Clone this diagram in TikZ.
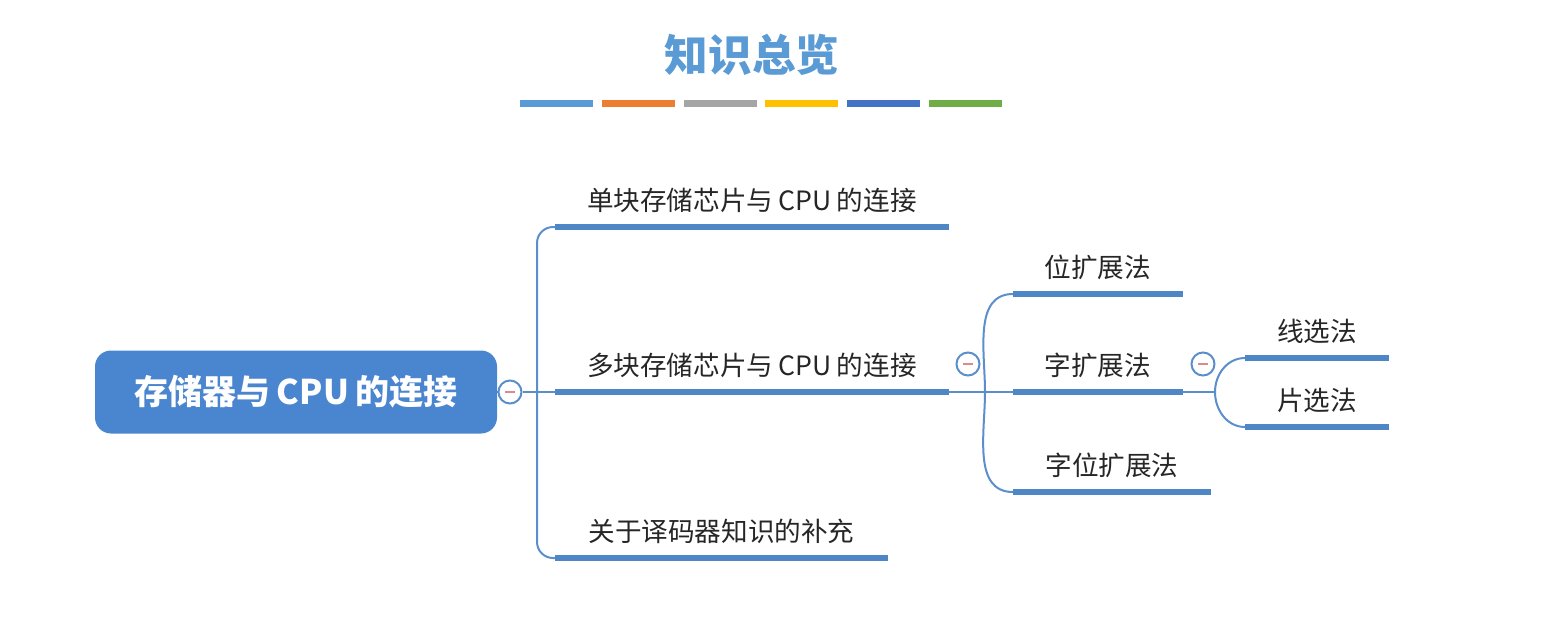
\documentclass[tikz,border=0pt]{standalone}
\usepackage{fontspec}
\setmainfont{Noto Sans CJK SC}
\usetikzlibrary{positioning}
\definecolor{mapblue}{HTML}{4A85CF}
\definecolor{linkblue}{HTML}{5A8FCB}
\definecolor{barblue}{HTML}{4E86C6}
\definecolor{titleblue}{HTML}{5B9BD5}
\definecolor{minusred}{HTML}{D98C8C}
\definecolor{swA}{HTML}{5B9BD5}
\definecolor{swB}{HTML}{ED7D31}
\definecolor{swC}{HTML}{A5A5A5}
\definecolor{swD}{HTML}{FFC000}
\definecolor{swE}{HTML}{4472C4}
\definecolor{swF}{HTML}{70AD47}
\newcommand{\gap}{\hspace{0.2em}}
\tikzset{
    title/.style={text=titleblue,font=\fontsize{21.8}{24}\selectfont\bfseries},
    swatch/.style={minimum width=36.5pt,minimum height=3.5pt,inner sep=0pt},
    root/.style={rectangle,rounded corners=8pt,fill=mapblue,text=white,minimum width=201pt,minimum height=41.5pt,font=\fontsize{17}{20}\selectfont\bfseries},
    topic/.style={anchor=south west,inner xsep=0pt,inner ysep=8pt,text depth=0pt,text=black!85,font=\fontsize{13.3}{15}\selectfont},
    underbar/.style={-,line width=3pt,draw=barblue},
    link/.style={-,line width=1pt,draw=linkblue},
    fold/.style={circle,draw=linkblue,line width=1pt,fill=white,minimum size=11.5pt,inner sep=0pt,
        path picture={\draw[minusred,line width=0.9pt] ([xshift=-2.5pt]path picture bounding box.center) -- ([xshift=2.5pt]path picture bounding box.center);}}
}

\begin{document}
\begin{tikzpicture}[x=0.5pt,y=-0.5pt]
    \useasboundingbox (0,0) rectangle (1552,632);
    \node[title] (head) at (752,55) {知识总览};
    \node[swatch,fill=swA] (c1) at (556.5,103) {};
    \node[swatch,fill=swB] (c2) [right=4pt of c1] {};
    \node[swatch,fill=swC] (c3) [right=4pt of c2] {};
    \node[swatch,fill=swD] (c4) [right=4pt of c3] {};
    \node[swatch,fill=swE] (c5) [right=4pt of c4] {};
    \node[swatch,fill=swF] (c6) [right=4pt of c5] {};

    \node[root] (mem) at (296,392) {存储器与\gap CPU\gap 的连接};
    \node[fold] (fold1) at (510,392) {};
    \coordinate (fork1) at (537,392);
    \node[topic,minimum width=196.5pt] (single) at (555,227) {单块存储芯片与\gap CPU\gap 的连接};
    \node[topic,minimum width=196.5pt] (multi) at (555,392) {多块存储芯片与\gap CPU\gap 的连接};
    \node[topic,minimum width=166pt] (decoder) at (555,558) {关于译码器知识的补充};

    \coordinate (fork2) at (985,392);
    \node[fold] (fold2) at (968,364) {};
    \node[topic,minimum width=84.5pt] (bitx) at (1013,294) {位扩展法};
    \node[topic,minimum width=84.5pt] (wordx) at (1013,392) {字扩展法};
    \node[topic,minimum width=98.5pt] (bothx) at (1013,492) {字位扩展法};

    \coordinate (fork3) at (1215,392);
    \node[fold] (fold3) at (1203,364) {};
    \node[topic,minimum width=71.5pt] (linesel) at (1245,358) {线选法};
    \node[topic,minimum width=71.5pt] (chipsel) at (1245,427) {片选法};

    \draw[link] (mem) -- (fold1);
    \draw[link] (fold1) -- (multi.south west);
    \draw[link,rounded corners=8pt] (fork1) |- (single.south west);
    \draw[link,rounded corners=8pt] (fork1) |- (decoder.south west);
    \draw[link] (multi.south east) -- (wordx.south west);
    \draw[link] (fork2) to[out=90,in=180] (bitx.south west);
    \draw[link] (fork2) to[out=-90,in=180] (bothx.south west);
    \draw[link] (wordx.south east) -- (fork3);
    \draw[link] (fork3) to[out=90,in=180] (linesel.south west);
    \draw[link] (fork3) to[out=-90,in=180] (chipsel.south west);

    \foreach \t in {single,multi,decoder,bitx,wordx,bothx,linesel,chipsel}
        \draw[underbar] (\t.south west) -- (\t.south east);
\end{tikzpicture}
\end{document}
